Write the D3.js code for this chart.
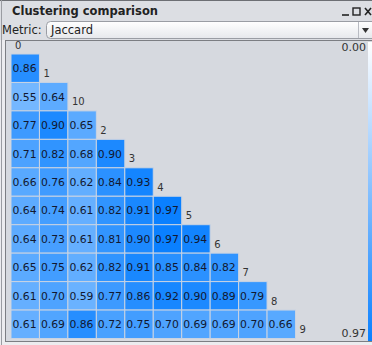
<!DOCTYPE html>
<html>
<head>
<meta charset="utf-8">
<script src="https://cdn.jsdelivr.net/npm/d3@7"></script>
<style>
  html, body { margin: 0; padding: 0; background: #ffffff; }
  svg { display: block; font-family: "DejaVu Sans", sans-serif; }
</style>
</head>
<body>
<div id="chart"></div>
<script>
// labels in display order (diagonal)
const labels = ["0", "1", "10", "2", "3", "4", "5", "6", "7", "8", "9"];

// lower triangle, one array per row (row label = labels[i+1])
const row1  = [0.86];
const row10 = [0.55, 0.64];
const row2  = [0.77, 0.90, 0.65];
const row3  = [0.71, 0.82, 0.68, 0.90];
const row4  = [0.66, 0.76, 0.62, 0.84, 0.93];
const row5  = [0.64, 0.74, 0.61, 0.82, 0.91, 0.97];
const row6  = [0.64, 0.73, 0.61, 0.81, 0.90, 0.97, 0.94];
const row7  = [0.65, 0.75, 0.62, 0.82, 0.91, 0.85, 0.84, 0.82];
const row8  = [0.61, 0.70, 0.59, 0.77, 0.86, 0.92, 0.90, 0.89, 0.79];
const row9  = [0.61, 0.69, 0.86, 0.72, 0.75, 0.70, 0.69, 0.69, 0.70, 0.66];
const rows = [row1, row10, row2, row3, row4, row5, row6, row7, row8, row9];

const metricName = "Jaccard";
const legendTicks = ["0.00", "0.97"];
const colorMin = 0, colorMax = 0.97;

const W = 372, H = 345;
const svg = d3.select("#chart").append("svg").attr("width", W).attr("height", H);

// window chrome
svg.append("rect").attr("width", W).attr("height", H).attr("fill", "#ececef");
svg.append("rect").attr("x", 0).attr("y", 0).attr("width", W).attr("height", 40).attr("fill", "#dcdee3");
svg.append("line").attr("x1", 0).attr("x2", W).attr("y1", 0.5).attr("y2", 0.5).attr("stroke", "#6d6f74");
svg.append("line").attr("x1", 1.5).attr("x2", 1.5).attr("y1", 0).attr("y2", H).attr("stroke", "#9a9ca2");
svg.append("text").attr("x", 12).attr("y", 15)
  .attr("font-size", 11.5).attr("font-weight", "bold").attr("fill", "#222")
  .text("Clustering comparison");

// window buttons
const btn = svg.append("g").attr("fill", "none").attr("stroke", "#222").attr("stroke-width", 1.6);
btn.append("line").attr("x1", 342).attr("x2", 349).attr("y1", 15).attr("y2", 15);
btn.append("rect").attr("x", 353).attr("y", 8).attr("width", 7).attr("height", 7).attr("stroke-width", 1.4);
btn.append("line").attr("x1", 365).attr("x2", 371).attr("y1", 8).attr("y2", 15);
btn.append("line").attr("x1", 371).attr("x2", 365).attr("y1", 8).attr("y2", 15);

// metric combo
svg.append("text").attr("x", 2).attr("y", 34).attr("font-size", 11.5).attr("fill", "#222").text("Metric:");
const defs = svg.append("defs");
const cg = defs.append("linearGradient").attr("id", "combo").attr("x1", 0).attr("x2", 0).attr("y1", 0).attr("y2", 1);
cg.append("stop").attr("offset", "0%").attr("stop-color", "#ffffff");
cg.append("stop").attr("offset", "100%").attr("stop-color", "#e6e8ec");
svg.append("rect").attr("x", 46.5).attr("y", 21.5).attr("width", 340).attr("height", 17).attr("rx", 4)
  .attr("fill", "url(#combo)").attr("stroke", "#9a9da4");
svg.append("line").attr("x1", 358.5).attr("x2", 358.5).attr("y1", 22).attr("y2", 38).attr("stroke", "#b8bbc2");
svg.append("path").attr("d", "M362,28 L369,28 L365.5,33 Z").attr("fill", "#333");
svg.append("text").attr("x", 51).attr("y", 34).attr("font-size", 11.5).attr("fill", "#222").text(metricName);

// matrix panel
svg.append("rect").attr("x", 5.5).attr("y", 40.5).attr("width", 380).attr("height", 301)
  .attr("fill", "#d6d9df").attr("stroke", "#7c7e83");

const step = 28.45;
const pos = d3.scaleBand().domain(labels).range([0, labels.length * step]);
const x0 = 11, y0 = 54 - step;
const color = d3.scaleLinear().domain([colorMin, colorMax]).range(["#ffffff", "#0a80ff"]);

const cells = [];
rows.forEach((vals, r) => {
  vals.forEach((v, c) => cells.push({ row: labels[r + 1], col: labels[c], v }));
});

const g = svg.append("g");
g.selectAll("rect.cell").data(cells).enter().append("rect")
  .attr("class", "cell")
  .attr("x", d => x0 + pos(d.col))
  .attr("y", d => y0 + pos(d.row))
  .attr("width", pos.bandwidth())
  .attr("height", pos.bandwidth())
  .attr("fill", d => color(d.v))
  .attr("stroke", "#c9d3e2")
  .attr("stroke-width", 1);

g.selectAll("text.val").data(cells).enter().append("text")
  .attr("class", "val")
  .attr("x", d => x0 + pos(d.col) + 1.5)
  .attr("y", d => y0 + pos(d.row) + pos.bandwidth() / 2 + 4)
  .attr("font-size", 10.8)
  .attr("fill", "#121830")
  .text(d => d3.format(".2f")(d.v));

// diagonal labels sit just right of the last cell of each row
g.selectAll("text.lab").data(labels).enter().append("text")
  .attr("class", "lab")
  .attr("x", d => x0 + pos(d) + 4)
  .attr("y", d => y0 + pos(d) + 23)
  .attr("font-size", 10)
  .attr("fill", "#333")
  .text(d => d);

// colour legend
const lg = defs.append("linearGradient").attr("id", "legend").attr("x1", 0).attr("x2", 0).attr("y1", 0).attr("y2", 1);
lg.append("stop").attr("offset", "0%").attr("stop-color", color(colorMin));
lg.append("stop").attr("offset", "100%").attr("stop-color", color(colorMax));
const ly = d3.scaleLinear().domain([colorMin, colorMax]).range([42, 341]);
svg.append("rect").attr("x", 368).attr("y", ly(colorMin)).attr("width", 5)
  .attr("height", ly(colorMax) - ly(colorMin)).attr("fill", "url(#legend)");
svg.append("text").attr("x", 366).attr("y", 51).attr("text-anchor", "end")
  .attr("font-size", 11).attr("fill", "#333").text(legendTicks[0]);
svg.append("text").attr("x", 366).attr("y", 337).attr("text-anchor", "end")
  .attr("font-size", 11).attr("fill", "#333").text(legendTicks[1]);
</script>
</body>
</html>
